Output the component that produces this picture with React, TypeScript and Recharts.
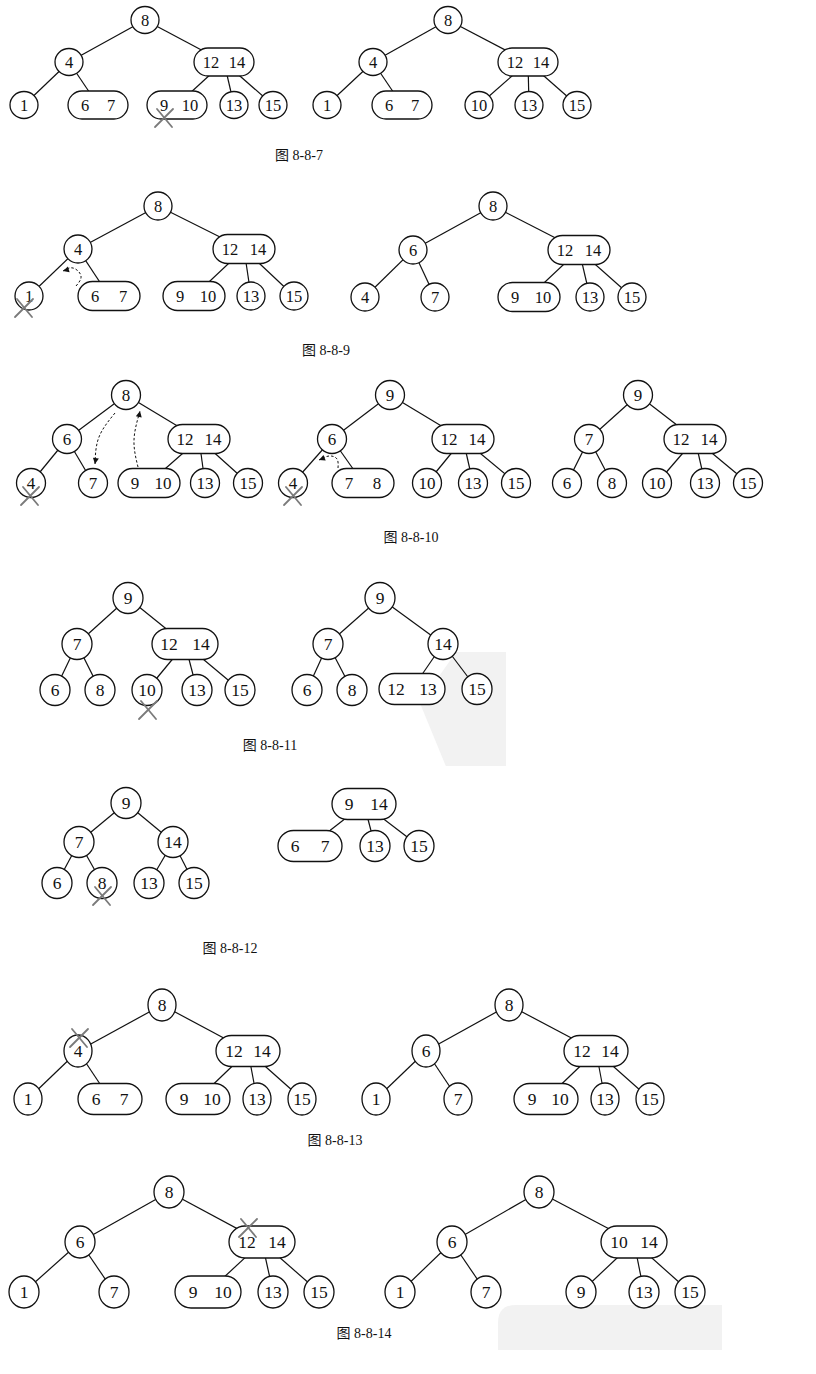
import { ReferenceArea, Scatter, ScatterChart, XAxis, YAxis } from "recharts";

type TreeNode = { id: string; keys: string; x: number; y: number; parent?: string };
type Pt = { x: number; y: number };

// node layout, one array per figure (pixel-like data space)
const fig7Nodes: TreeNode[] = [
  { id: "7a-8", keys: "8", x: 145, y: 20 },
  { id: "7a-4", keys: "4", x: 69, y: 62, parent: "7a-8" },
  { id: "7a-1214", keys: "12 14", x: 224, y: 62, parent: "7a-8" },
  { id: "7a-1", keys: "1", x: 24, y: 105, parent: "7a-4" },
  { id: "7a-67", keys: "6 7", x: 98, y: 105, parent: "7a-4" },
  { id: "7a-910", keys: "9 10", x: 177, y: 105, parent: "7a-1214" },
  { id: "7a-13", keys: "13", x: 234, y: 105, parent: "7a-1214" },
  { id: "7a-15", keys: "15", x: 273, y: 105, parent: "7a-1214" },
  { id: "7b-8", keys: "8", x: 448, y: 20 },
  { id: "7b-4", keys: "4", x: 373, y: 62, parent: "7b-8" },
  { id: "7b-1214", keys: "12 14", x: 528, y: 62, parent: "7b-8" },
  { id: "7b-1", keys: "1", x: 327, y: 105, parent: "7b-4" },
  { id: "7b-67", keys: "6 7", x: 402, y: 105, parent: "7b-4" },
  { id: "7b-10", keys: "10", x: 479, y: 105, parent: "7b-1214" },
  { id: "7b-13", keys: "13", x: 529, y: 105, parent: "7b-1214" },
  { id: "7b-15", keys: "15", x: 577, y: 105, parent: "7b-1214" },
];

const fig9Nodes: TreeNode[] = [
  { id: "9a-8", keys: "8", x: 158, y: 206 },
  { id: "9a-4", keys: "4", x: 78, y: 249, parent: "9a-8" },
  { id: "9a-1214", keys: "12 14", x: 244, y: 249, parent: "9a-8" },
  { id: "9a-1", keys: "1", x: 29, y: 296, parent: "9a-4" },
  { id: "9a-67", keys: "6 7", x: 109, y: 296, parent: "9a-4" },
  { id: "9a-910", keys: "9 10", x: 194, y: 296, parent: "9a-1214" },
  { id: "9a-13", keys: "13", x: 251, y: 296, parent: "9a-1214" },
  { id: "9a-15", keys: "15", x: 294, y: 296, parent: "9a-1214" },
  { id: "9b-8", keys: "8", x: 493, y: 206 },
  { id: "9b-6", keys: "6", x: 413, y: 250, parent: "9b-8" },
  { id: "9b-1214", keys: "12 14", x: 579, y: 250, parent: "9b-8" },
  { id: "9b-4", keys: "4", x: 365, y: 297, parent: "9b-6" },
  { id: "9b-7", keys: "7", x: 435, y: 297, parent: "9b-6" },
  { id: "9b-910", keys: "9 10", x: 529, y: 297, parent: "9b-1214" },
  { id: "9b-13", keys: "13", x: 590, y: 297, parent: "9b-1214" },
  { id: "9b-15", keys: "15", x: 632, y: 297, parent: "9b-1214" },
];

const fig10Nodes: TreeNode[] = [
  { id: "10a-8", keys: "8", x: 126, y: 395 },
  { id: "10a-6", keys: "6", x: 67, y: 439, parent: "10a-8" },
  { id: "10a-1214", keys: "12 14", x: 199, y: 439, parent: "10a-8" },
  { id: "10a-4", keys: "4", x: 31, y: 483, parent: "10a-6" },
  { id: "10a-7", keys: "7", x: 93, y: 483, parent: "10a-6" },
  { id: "10a-910", keys: "9 10", x: 149, y: 483, parent: "10a-1214" },
  { id: "10a-13", keys: "13", x: 205, y: 483, parent: "10a-1214" },
  { id: "10a-15", keys: "15", x: 248, y: 483, parent: "10a-1214" },
  { id: "10b-9", keys: "9", x: 390, y: 395 },
  { id: "10b-6", keys: "6", x: 332, y: 439, parent: "10b-9" },
  { id: "10b-1214", keys: "12 14", x: 463, y: 439, parent: "10b-9" },
  { id: "10b-4", keys: "4", x: 293, y: 483, parent: "10b-6" },
  { id: "10b-78", keys: "7 8", x: 363, y: 483, parent: "10b-6" },
  { id: "10b-10", keys: "10", x: 427, y: 483, parent: "10b-1214" },
  { id: "10b-13", keys: "13", x: 473, y: 483, parent: "10b-1214" },
  { id: "10b-15", keys: "15", x: 516, y: 483, parent: "10b-1214" },
  { id: "10c-9", keys: "9", x: 638, y: 395 },
  { id: "10c-7", keys: "7", x: 589, y: 439, parent: "10c-9" },
  { id: "10c-1214", keys: "12 14", x: 695, y: 439, parent: "10c-9" },
  { id: "10c-6", keys: "6", x: 567, y: 483, parent: "10c-7" },
  { id: "10c-8", keys: "8", x: 612, y: 483, parent: "10c-7" },
  { id: "10c-10", keys: "10", x: 657, y: 483, parent: "10c-1214" },
  { id: "10c-13", keys: "13", x: 705, y: 483, parent: "10c-1214" },
  { id: "10c-15", keys: "15", x: 748, y: 483, parent: "10c-1214" },
];

const fig11Nodes: TreeNode[] = [
  { id: "11a-9", keys: "9", x: 128, y: 598 },
  { id: "11a-7", keys: "7", x: 77, y: 644, parent: "11a-9" },
  { id: "11a-1214", keys: "12 14", x: 185, y: 644, parent: "11a-9" },
  { id: "11a-6", keys: "6", x: 55, y: 690, parent: "11a-7" },
  { id: "11a-8", keys: "8", x: 100, y: 690, parent: "11a-7" },
  { id: "11a-10", keys: "10", x: 147, y: 690, parent: "11a-1214" },
  { id: "11a-13", keys: "13", x: 197, y: 690, parent: "11a-1214" },
  { id: "11a-15", keys: "15", x: 240, y: 690, parent: "11a-1214" },
  { id: "11b-9", keys: "9", x: 380, y: 598 },
  { id: "11b-7", keys: "7", x: 328, y: 644, parent: "11b-9" },
  { id: "11b-14", keys: "14", x: 443, y: 644, parent: "11b-9" },
  { id: "11b-6", keys: "6", x: 307, y: 690, parent: "11b-7" },
  { id: "11b-8", keys: "8", x: 352, y: 690, parent: "11b-7" },
  { id: "11b-1213", keys: "12 13", x: 412, y: 689, parent: "11b-14" },
  { id: "11b-15", keys: "15", x: 477, y: 689, parent: "11b-14" },
];

const fig12Nodes: TreeNode[] = [
  { id: "12a-9", keys: "9", x: 126, y: 803 },
  { id: "12a-7", keys: "7", x: 79, y: 842, parent: "12a-9" },
  { id: "12a-14", keys: "14", x: 173, y: 842, parent: "12a-9" },
  { id: "12a-6", keys: "6", x: 57, y: 883, parent: "12a-7" },
  { id: "12a-8", keys: "8", x: 102, y: 883, parent: "12a-7" },
  { id: "12a-13", keys: "13", x: 149, y: 883, parent: "12a-14" },
  { id: "12a-15", keys: "15", x: 194, y: 883, parent: "12a-14" },
  { id: "12b-914", keys: "9 14", x: 364, y: 804 },
  { id: "12b-67", keys: "6 7", x: 310, y: 846, parent: "12b-914" },
  { id: "12b-13", keys: "13", x: 375, y: 846, parent: "12b-914" },
  { id: "12b-15", keys: "15", x: 419, y: 846, parent: "12b-914" },
];

const fig13Nodes: TreeNode[] = [
  { id: "13a-8", keys: "8", x: 162, y: 1005 },
  { id: "13a-4", keys: "4", x: 78, y: 1051, parent: "13a-8" },
  { id: "13a-1214", keys: "12 14", x: 248, y: 1051, parent: "13a-8" },
  { id: "13a-1", keys: "1", x: 28, y: 1099, parent: "13a-4" },
  { id: "13a-67", keys: "6 7", x: 110, y: 1099, parent: "13a-4" },
  { id: "13a-910", keys: "9 10", x: 198, y: 1099, parent: "13a-1214" },
  { id: "13a-13", keys: "13", x: 257, y: 1099, parent: "13a-1214" },
  { id: "13a-15", keys: "15", x: 302, y: 1099, parent: "13a-1214" },
  { id: "13b-8", keys: "8", x: 509, y: 1005 },
  { id: "13b-6", keys: "6", x: 426, y: 1051, parent: "13b-8" },
  { id: "13b-1214", keys: "12 14", x: 596, y: 1051, parent: "13b-8" },
  { id: "13b-1", keys: "1", x: 376, y: 1099, parent: "13b-6" },
  { id: "13b-7", keys: "7", x: 458, y: 1099, parent: "13b-6" },
  { id: "13b-910", keys: "9 10", x: 546, y: 1099, parent: "13b-1214" },
  { id: "13b-13", keys: "13", x: 605, y: 1099, parent: "13b-1214" },
  { id: "13b-15", keys: "15", x: 650, y: 1099, parent: "13b-1214" },
];

const fig14Nodes: TreeNode[] = [
  { id: "14a-8", keys: "8", x: 169, y: 1192 },
  { id: "14a-6", keys: "6", x: 80, y: 1242, parent: "14a-8" },
  { id: "14a-1214", keys: "12 14", x: 262, y: 1242, parent: "14a-8" },
  { id: "14a-1", keys: "1", x: 24, y: 1292, parent: "14a-6" },
  { id: "14a-7", keys: "7", x: 114, y: 1292, parent: "14a-6" },
  { id: "14a-910", keys: "9 10", x: 208, y: 1292, parent: "14a-1214" },
  { id: "14a-13", keys: "13", x: 273, y: 1292, parent: "14a-1214" },
  { id: "14a-15", keys: "15", x: 319, y: 1292, parent: "14a-1214" },
  { id: "14b-8", keys: "8", x: 539, y: 1192 },
  { id: "14b-6", keys: "6", x: 452, y: 1242, parent: "14b-8" },
  { id: "14b-1014", keys: "10 14", x: 634, y: 1242, parent: "14b-8" },
  { id: "14b-1", keys: "1", x: 400, y: 1292, parent: "14b-6" },
  { id: "14b-7", keys: "7", x: 486, y: 1292, parent: "14b-6" },
  { id: "14b-9", keys: "9", x: 581, y: 1292, parent: "14b-1014" },
  { id: "14b-13", keys: "13", x: 644, y: 1292, parent: "14b-1014" },
  { id: "14b-15", keys: "15", x: 690, y: 1292, parent: "14b-1014" },
];

// deleted keys (gray X marks)
const crosses: Pt[] = [
  { x: 164, y: 118 },
  { x: 24, y: 308 },
  { x: 30, y: 496 },
  { x: 293, y: 496 },
  { x: 148, y: 710 },
  { x: 102, y: 896 },
  { x: 79, y: 1038 },
  { x: 248, y: 1228 },
];

// dashed "borrow" arrows, arrowhead at the last point
const arrow9: Pt[] = [{ x: 76, y: 286 }, { x: 81, y: 276 }, { x: 73, y: 268 }, { x: 63, y: 271 }];
const arrow10a: Pt[] = [{ x: 115, y: 413 }, { x: 99, y: 437 }, { x: 95, y: 464 }];
const arrow10b: Pt[] = [{ x: 138, y: 467 }, { x: 134, y: 440 }, { x: 140, y: 411 }];
const arrow10c: Pt[] = [{ x: 338, y: 468 }, { x: 337, y: 459 }, { x: 329, y: 456 }, { x: 319, y: 460 }];

const captionLabels = ["图 8-8-7", "图 8-8-9", "图 8-8-10", "图 8-8-11", "图 8-8-12", "图 8-8-13", "图 8-8-14"];
const captionX = [299, 326, 411, 270, 230, 335, 364];
const captionY = [155, 350, 537, 745, 948, 1140, 1333];

// faint scan watermarks
const watermarks = [
  { x1: 420, x2: 506, y1: 652, y2: 766 },
  { x1: 498, x2: 722, y1: 1305, y2: 1350 },
];

const sizes: Record<string, { r: number; ry: number; w: number; h: number; font: number; gap: number }> = {
  "7": { r: 14, ry: 13.5, w: 60, h: 28, font: 16.5, gap: 13 },
  "9": { r: 14, ry: 14, w: 62, h: 29, font: 16.5, gap: 14 },
  "10": { r: 14.5, ry: 14.5, w: 62, h: 29, font: 17, gap: 14 },
  "11": { r: 15, ry: 15.5, w: 66, h: 31, font: 17.5, gap: 16 },
  "12": { r: 15, ry: 15.5, w: 64, h: 31, font: 17.5, gap: 15 },
  "13": { r: 14, ry: 16, w: 64, h: 31, font: 17.5, gap: 14 },
  "14": { r: 15, ry: 16, w: 66, h: 32, font: 17.5, gap: 15 },
};

const serif = "'Liberation Serif', 'Times New Roman', 'Noto Sans CJK SC', serif";
const ink = "#111";

const allNodes = [
  ...fig7Nodes.map((n) => ({ ...n, fig: "7" })),
  ...fig9Nodes.map((n) => ({ ...n, fig: "9" })),
  ...fig10Nodes.map((n) => ({ ...n, fig: "10" })),
  ...fig11Nodes.map((n) => ({ ...n, fig: "11" })),
  ...fig12Nodes.map((n) => ({ ...n, fig: "12" })),
  ...fig13Nodes.map((n) => ({ ...n, fig: "13" })),
  ...fig14Nodes.map((n) => ({ ...n, fig: "14" })),
];
const byId = Object.fromEntries(allNodes.map((n) => [n.id, n]));
const edges = allNodes
  .filter((n) => n.parent)
  .map((n) => [byId[n.parent as string], n] as const);
const captions = captionLabels.map((label, i) => ({ label, x: captionX[i], y: captionY[i] }));
const arrows = [arrow9, arrow10a, arrow10b, arrow10c];

const Empty = () => <g />;

function NodeShape(props: any) {
  const { cx, cy, payload } = props;
  const s = sizes[payload.fig];
  const keys: string[] = payload.keys.split(" ");
  const textProps = {
    fontFamily: serif,
    fontSize: s.font,
    fill: ink,
    textAnchor: "middle" as const,
    dy: "0.35em",
  };
  if (keys.length === 1) {
    return (
      <g>
        <ellipse cx={cx} cy={cy} rx={s.r} ry={s.ry} fill="#fff" stroke={ink} strokeWidth={1.3} />
        <text x={cx} y={cy} {...textProps}>
          {keys[0]}
        </text>
      </g>
    );
  }
  return (
    <g>
      <rect
        x={cx - s.w / 2}
        y={cy - s.h / 2}
        width={s.w}
        height={s.h}
        rx={s.h / 2}
        ry={s.h / 2}
        fill="#fff"
        stroke={ink}
        strokeWidth={1.3}
      />
      <text x={cx - s.gap} y={cy} {...textProps}>
        {keys[0]}
      </text>
      <text x={cx + s.gap} y={cy} {...textProps}>
        {keys[1]}
      </text>
    </g>
  );
}

function CrossShape(props: any) {
  const { cx, cy } = props;
  const d = 9;
  return (
    <g stroke="#7a7a7a" strokeWidth={1.8} strokeLinecap="round">
      <line x1={cx - d} y1={cy + d} x2={cx + d} y2={cy - d} />
      <line x1={cx - d + 2} y1={cy - d} x2={cx + d - 1} y2={cy + d} />
    </g>
  );
}

function CaptionShape(props: any) {
  const { cx, cy, payload } = props;
  return (
    <text x={cx} y={cy} dy="0.35em" textAnchor="middle" fontFamily={serif} fontSize={14} fill={ink}>
      {payload.label}
    </text>
  );
}

function makeArrowHead(points: Pt[]) {
  return (props: any) => {
    const { cx, cy, index } = props;
    if (index !== points.length - 1) return <g />;
    const prev = points[points.length - 2];
    const last = points[points.length - 1];
    const a = Math.atan2(last.y - prev.y, last.x - prev.x);
    const len = 6;
    const half = 3;
    const bx = cx - len * Math.cos(a);
    const by = cy - len * Math.sin(a);
    const px = -Math.sin(a) * half;
    const py = Math.cos(a) * half;
    return (
      <polygon
        points={`${cx},${cy} ${bx + px},${by + py} ${bx - px},${by - py}`}
        fill={ink}
      />
    );
  };
}

function WatermarkShape(props: any) {
  const { x, y, width, height } = props;
  if (width > 150) {
    const r = 18;
    return (
      <path
        d={`M${x},${y + height} L${x},${y + r} Q${x},${y} ${x + r},${y} L${x + width},${y} L${x + width},${y + height} Z`}
        fill="#f2f2f2"
      />
    );
  }
  return (
    <polygon
      points={`${x + width * 0.42},${y} ${x + width},${y} ${x + width},${y + height} ${x + width * 0.3},${y + height} ${x},${y + height * 0.45}`}
      fill="#f2f2f2"
    />
  );
}

export default function App() {
  return (
    <div style={{ position: "absolute", left: 0, top: 0, background: "#fff" }}>
      <ScatterChart width={816} height={1374} margin={{ top: 0, right: 0, bottom: 0, left: 0 }}>
        <XAxis type="number" dataKey="x" domain={[0, 816]} hide allowDataOverflow />
        <YAxis type="number" dataKey="y" domain={[0, 1374]} reversed hide allowDataOverflow />
        {watermarks.map((w, i) => (
          <ReferenceArea key={`wm-${i}`} {...w} shape={WatermarkShape} />
        ))}
        {edges.map(([a, b]) => (
          <Scatter
            key={`e-${b.id}`}
            data={[
              { x: a.x, y: a.y },
              { x: b.x, y: b.y },
            ]}
            line={{ stroke: ink, strokeWidth: 1.2 }}
            shape={Empty}
            isAnimationActive={false}
            legendType="none"
          />
        ))}
        {arrows.map((pts, i) => (
          <Scatter
            key={`arr-${i}`}
            data={pts}
            line={{ stroke: ink, strokeWidth: 1, strokeDasharray: "2.5 2" }}
            lineJointType="natural"
            shape={makeArrowHead(pts)}
            isAnimationActive={false}
            legendType="none"
          />
        ))}
        <Scatter data={allNodes} shape={NodeShape} isAnimationActive={false} legendType="none" />
        <Scatter data={crosses} shape={CrossShape} isAnimationActive={false} legendType="none" />
        <Scatter data={captions} shape={CaptionShape} isAnimationActive={false} legendType="none" />
      </ScatterChart>
    </div>
  );
}
